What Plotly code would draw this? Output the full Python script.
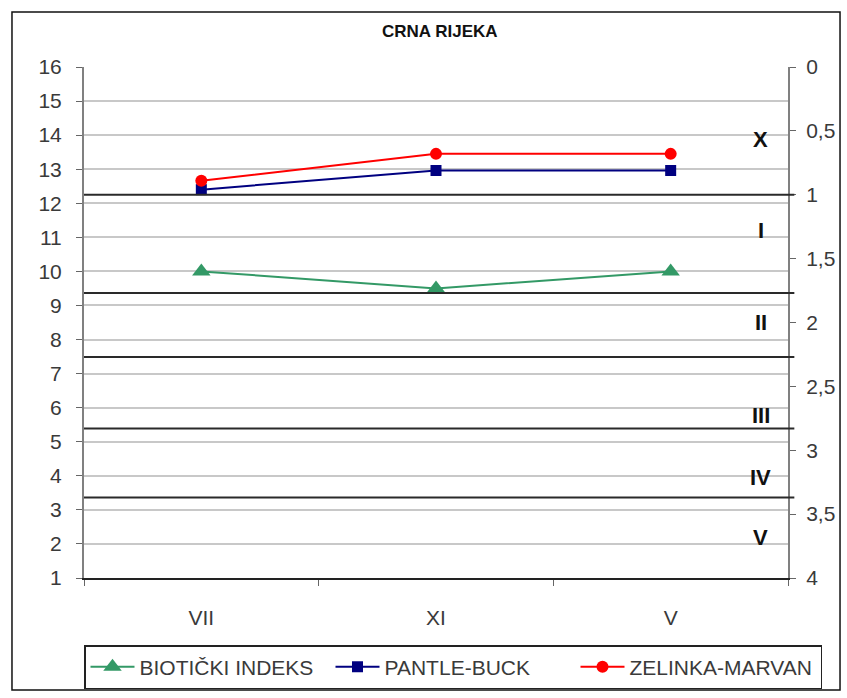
import plotly.graph_objects as go

months = ["VII", "XI", "V"]
biotic_index = [10, 9.5, 10]
pantle_buck = [0.96, 0.81, 0.81]
zelinka_marvan = [0.89, 0.68, 0.68]

left_ticks = list(range(1, 17))
right_ticks = [0, 0.5, 1, 1.5, 2, 2.5, 3, 3.5, 4]
right_tick_labels = ["0", "0,5", "1", "1,5", "2", "2,5", "3", "3,5", "4"]

class_boundaries = [1.0, 1.77, 2.27, 2.83, 3.37]
class_labels = ["X", "I", "II", "III", "IV", "V"]
class_label_y = [0.57, 1.28, 2.0, 2.73, 3.21, 3.68]

FONT = "Liberation Sans, Arial, sans-serif"
TXT = "#3a3a3a"

fig = go.Figure()
fig.add_trace(go.Scatter(
    x=months, y=biotic_index, name="BIOTIČKI INDEKS", mode="lines+markers",
    line=dict(color="#339966", width=2),
    marker=dict(symbol="triangle-up", size=16, color="#339966"),
    yaxis="y"))
fig.add_trace(go.Scatter(
    x=months, y=pantle_buck, name="PANTLE-BUCK", mode="lines+markers",
    line=dict(color="#000080", width=2),
    marker=dict(symbol="square", size=11, color="#000080"),
    yaxis="y2"))
fig.add_trace(go.Scatter(
    x=months, y=zelinka_marvan, name="ZELINKA-MARVAN", mode="lines+markers",
    line=dict(color="#ff0000", width=2),
    marker=dict(symbol="circle", size=12, color="#ff0000"),
    yaxis="y2"))

shapes = []
for b in class_boundaries:
    shapes.append(dict(type="line", xref="paper", yref="y2", x0=0, x1=1.009,
                       y0=b, y1=b, line=dict(color="#2a2a2a", width=2), layer="above"))
# outer frame
shapes.append(dict(type="rect", xref="paper", yref="paper",
                   x0=-0.1023, x1=1.0739, y0=-0.219, y1=1.1076,
                   line=dict(color="#111111", width=1.5), layer="below"))

annotations = []
for lab, yy in zip(class_labels, class_label_y):
    annotations.append(dict(text=lab, xref="paper", yref="y2", x=0.961, y=yy,
                            xanchor="center", yanchor="middle", showarrow=False,
                            font=dict(family=FONT, size=22, color="#111111", weight="bold")))
annotations.append(dict(text="CRNA RIJEKA", xref="paper", yref="paper", x=0.505, y=1.07,
                        xanchor="center", yanchor="middle", showarrow=False,
                        font=dict(family=FONT, size=17, color="#111111", weight="bold")))

fig.update_layout(
    width=847, height=698,
    margin=dict(l=84, r=59, t=67, b=120, autoexpand=False),
    paper_bgcolor="white", plot_bgcolor="white",
    showlegend=True,
    font=dict(family=FONT, size=20, color=TXT),
    xaxis=dict(type="category", showgrid=False, showline=True, linecolor="#222222",
               linewidth=2, ticks="outside", tickson="boundaries", ticklen=6,
               tickcolor="#666666", tickfont=dict(size=21, color=TXT),
               ticklabelstandoff=20, range=[-0.5, 2.5], automargin=False),
    yaxis=dict(range=[1, 16], tickvals=left_ticks, showgrid=True, gridcolor="#c8c8c8",
               gridwidth=1.5, showline=True, linecolor="#808080", linewidth=2,
               ticks="outside", ticklen=6, tickcolor="#666666", zeroline=False,
               tickfont=dict(size=21, color=TXT), ticklabelstandoff=10, automargin=False),
    yaxis2=dict(range=[4, 0], overlaying="y", side="right", tickvals=right_ticks,
                ticktext=right_tick_labels, showgrid=False, showline=True,
                linecolor="#808080", linewidth=2, ticks="outside", ticklen=6,
                tickcolor="#666666", zeroline=False, tickfont=dict(size=21, color=TXT),
                ticklabelstandoff=6, automargin=False),
    legend=dict(orientation="h", xref="paper", yref="paper",
                x=738 / 704, y=-67 / 511, xanchor="right", yanchor="top",
                bordercolor="#222222", borderwidth=1.5, bgcolor="white",
                font=dict(size=21, color=TXT), itemwidth=44,
                entrywidth=186, entrywidthmode="pixels", tracegroupgap=0),
    shapes=shapes,
    annotations=annotations,
)

fig.write_html("out.html", post_script="document.body.style.margin='0';",
               config={"displayModeBar": False})
